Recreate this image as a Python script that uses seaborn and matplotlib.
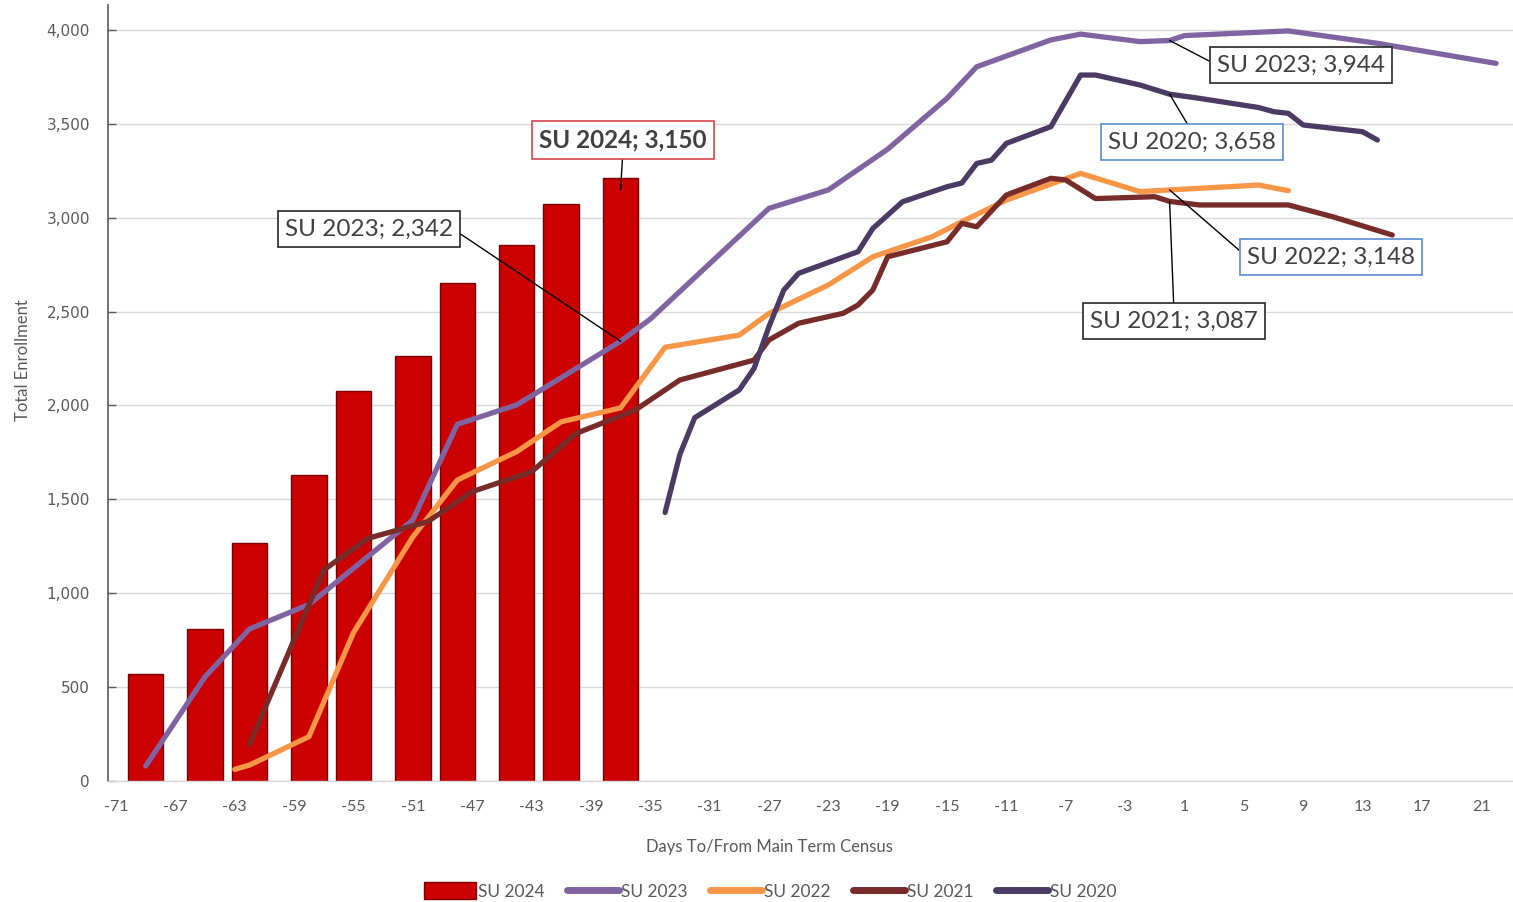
import numpy as np
import pandas as pd
import matplotlib
matplotlib.use("Agg")
import matplotlib.pyplot as plt
import seaborn as sns
from matplotlib.patches import Patch
from matplotlib.lines import Line2D

# ---------------- data ----------------
su2024_days = [-69, -65, -62, -58, -55, -51, -48, -44, -41, -37]
su2024_vals = [570, 810, 1268, 1630, 2077, 2264, 2652, 2855, 3073, 3210]

su2023_days = [-69, -65, -62, -58, -51, -48, -44, -37, -35, -27, -23, -19, -15, -13,
               -8, -6, -2, 0, 1, 8, 14, 22]
su2023_vals = [80, 555, 810, 940, 1390, 1900, 2003, 2342, 2460, 3050, 3148, 3365, 3636, 3804,
               3947, 3978, 3938, 3944, 3970, 3995, 3929, 3822]

su2022_days = [-63, -62, -58, -55, -51, -48, -44, -41, -37, -34, -29, -27, -23, -20,
               -16, -14, -11, -6, -2, 0, 6, 8]
su2022_vals = [62, 85, 236, 790, 1300, 1603, 1754, 1913, 1987, 2310, 2375, 2490, 2642, 2792,
               2899, 2979, 3094, 3236, 3139, 3148, 3174, 3144]

su2021_days = [-62, -57, -54, -50, -47, -43, -40, -36, -33, -28, -27, -25, -22, -21, -20,
               -19, -15, -14, -13, -11, -8, -7, -5, -1, 0, 2, 8, 11, 15]
su2021_vals = [195, 1124, 1293, 1381, 1541, 1647, 1851, 1976, 2136, 2242, 2349, 2438, 2491,
               2535, 2615, 2792, 2872, 2970, 2952, 3121, 3210, 3201, 3102, 3112, 3087, 3068,
               3068, 3005, 2908]

su2020_days = [-34, -33, -32, -29, -28, -27, -26, -25, -21, -20, -18, -15, -14, -13, -12,
               -11, -8, -6, -5, -2, 0, 2, 6, 7, 8, 9, 13, 14]
su2020_vals = [1430, 1740, 1935, 2083, 2198, 2420, 2615, 2704, 2819, 2943, 3085, 3165, 3185,
               3289, 3307, 3396, 3485, 3760, 3760, 3707, 3658, 3636, 3587, 3565, 3556, 3494,
               3458, 3414]

series_names = ["SU 2024", "SU 2023", "SU 2022", "SU 2021", "SU 2020"]
x_ticks = list(range(-71, 22, 4))
y_ticks = list(range(0, 4001, 500))

label_texts = ["SU 2024; 3,150", "SU 2023; 2,342", "SU 2023; 3,944",
               "SU 2020; 3,658", "SU 2022; 3,148", "SU 2021; 3,087"]
label_points = [(-37, 3150), (-37, 2342), (0, 3944), (0, 3658), (0, 3148), (0, 3087)]

# ---------------- styling ----------------
sns.set_theme(style="white")
plt.rcParams['font.family'] = ['Lato', 'DejaVu Sans']

bar_color = "#CC0000"
line_colors = {"SU 2023": "#8064A2", "SU 2022": "#F79646",
               "SU 2021": "#772C2A", "SU 2020": "#4B3A63"}
grey_text = "#595959"

W, H = 1513, 902
fig = plt.figure(figsize=(W / 100, H / 100), dpi=100)
ax = fig.add_axes([108 / W, 1 - 781 / H, 1405 / W, 776 / H])

df24 = pd.DataFrame({"day": su2024_days, "enroll": su2024_vals})
sns.barplot(data=df24, x="day", y="enroll", native_scale=True, color=bar_color,
            saturation=1, edgecolor="#7A0000", linewidth=1.0, width=0.8,
            errorbar=None, ax=ax, zorder=2)

lines = [("SU 2023", su2023_days, su2023_vals),
         ("SU 2022", su2022_days, su2022_vals),
         ("SU 2021", su2021_days, su2021_vals),
         ("SU 2020", su2020_days, su2020_vals)]
for i, (name, d, v) in enumerate(lines):
    sns.lineplot(x=d, y=v, color=line_colors[name], lw=3.8, sort=False, ax=ax,
                 solid_capstyle="round", solid_joinstyle="round", zorder=3 + i)

ax.set_xlim(-71.54, 23.14)
ax.set_ylim(0, 4133)
ax.set_xticks(x_ticks, labels=[str(t) for t in x_ticks])
ax.set_yticks(y_ticks, labels=[f"{t:,}" for t in y_ticks], fontfamily="DejaVu Sans")

ax.yaxis.grid(True, color="#D9D9D9", lw=1)
ax.xaxis.grid(False)
ax.set_axisbelow(True)
for s in ["top", "right"]:
    ax.spines[s].set_visible(False)
ax.spines["left"].set_color("#595959")
ax.spines["left"].set_linewidth(1.2)
ax.spines["bottom"].set_color("#D9D9D9")
ax.spines["bottom"].set_linewidth(1)

ax.tick_params(axis="y", direction="in", length=6, width=1, color="#595959",
               labelsize=11, labelcolor=grey_text, pad=13, left=True)
ax.tick_params(axis="x", length=0, labelsize=11.5, labelcolor=grey_text, pad=14)

ax.set_xlabel("Days To/From Main Term Census", fontsize=12, color=grey_text)
ax.xaxis.set_label_coords(0.471, -0.075)
ax.set_ylabel("Total Enrollment", fontsize=12, color=grey_text)
ax.yaxis.set_label_coords(-0.055, 0.5425)

# ---------------- data labels ----------------
box_pos = [(-36.84, 3414), (-53.95, 2940), (8.85, 3813),
           (1.5, 3403), (10.87, 2791), (0.29, 2450)]
box_ec = ["#D9434B", "#262626", "#262626", "#5B8BD0", "#5B8BD0", "#262626"]
rel = [(0.5, 0.0), (1.0, 0.5), (0.0, 0.5), (0.5, 1.0), (0.0, 0.5), (0.5, 1.0)]
for i, (txt, pt, pos, ec, rp) in enumerate(zip(label_texts, label_points, box_pos, box_ec, rel)):
    ax.annotate(txt, xy=pt, xytext=pos, textcoords="data", ha="center", va="center",
                fontsize=17.5, fontweight="bold" if i == 0 else "normal", color="#404040",
                bbox=dict(boxstyle="square,pad=0.3", fc="white", ec=ec, lw=1.2),
                arrowprops=dict(arrowstyle="-", color="black", lw=1, shrinkA=0, shrinkB=0,
                                relpos=rp),
                zorder=10)

# ---------------- legend ----------------
handles = [Patch(facecolor=bar_color, edgecolor="#7A0000")]
handles += [Line2D([0], [0], color=line_colors[n], lw=5, solid_capstyle="round")
            for n in series_names[1:]]
fig.legend(handles, series_names, loc="center", bbox_to_anchor=(770 / W, 1 - 891 / H),
           ncol=5, frameon=False, handlelength=3.0, handleheight=1.1, handletextpad=0.1,
           columnspacing=1.3, fontsize=12.5, labelcolor=grey_text)

fig.savefig("out.png", dpi=100)
